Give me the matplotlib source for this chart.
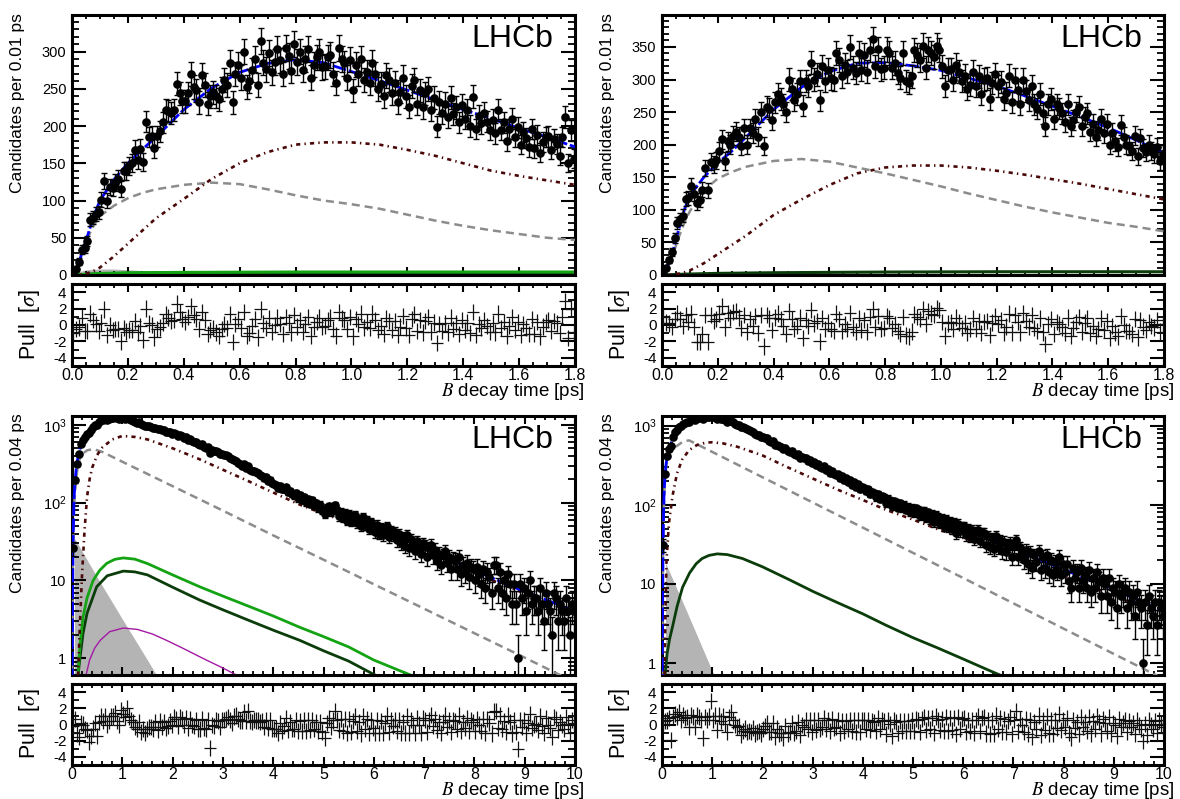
import numpy as np
import matplotlib
matplotlib.use("Agg")
import matplotlib.pyplot as plt
from matplotlib.ticker import MultipleLocator, FixedLocator, FixedFormatter, NullFormatter

plt.rcParams['font.family'] = ['Liberation Sans', 'DejaVu Sans']
plt.rcParams['mathtext.fontset'] = 'stix'
plt.rcParams['axes.unicode_minus'] = False
plt.rcParams['lines.scale_dashes'] = False

# ---------------- binning ----------------
top_bin = 0.01   # ps
bot_bin = 0.04   # ps

# ---------------- top-left data ----------------
tl_counts = [
    1, 8, 18, 34, 36, 46, 74, 77, 82, 84,
    101, 126, 100, 118, 117, 124, 129, 116, 140, 140,
    146, 150, 168, 155, 169, 152, 206, 185, 186, 170,
    186, 193, 205, 222, 220, 218, 222, 257, 244, 233,
    233, 244, 270, 252, 248, 232, 268, 255, 230, 240,
    245, 240, 236, 250, 262, 255, 285, 232, 270, 282,
    265, 300, 252, 260, 275, 290, 255, 314, 285, 276,
    298, 272, 286, 303, 288, 270, 305, 294, 274, 310,
    286, 300, 275, 290, 304, 265, 282, 292, 300, 279,
    280, 292, 295, 270, 258, 305, 290, 284, 265, 289,
    248, 282, 270, 290, 262, 272, 258, 285, 270, 250,
    256, 240, 268, 262, 244, 258, 232, 246, 265, 240,
    226, 254, 262, 230, 248, 225, 244, 250, 222, 238,
    199, 232, 218, 230, 212, 238, 216, 225, 205, 228,
    210, 222, 200, 239, 196, 213, 204, 218, 206, 195,
    208, 190, 222, 195, 205, 180, 196, 210, 185, 198,
    175, 192, 184, 172, 196, 170, 188, 164, 178, 185,
    186, 168, 182, 176, 160, 185, 212, 150, 194, 156]
tl_pulls = [
    -1.0, -0.5, -0.3, 0.9, -0.7, -0.7, 1.4, 0.6, 0.1, -0.7,
    0.3, 1.9, -1.2, 0.0, -0.6, -0.5, -0.5, -2.0, -0.4, -0.8,
    -0.6, -0.6, 0.5, -0.9, -0.1, -1.8, 2.0, 0.2, 0.0, -1.5,
    -0.5, -0.3, 0.3, 1.3, 0.9, 0.5, 0.6, 2.6, 1.6, 0.7,
    0.4, 1.0, 2.3, 1.2, 0.7, -0.5, 1.6, 0.6, -1.1, -0.6,
    -0.4, -0.9, -1.3, -0.5, 0.1, -0.4, 1.3, -2.1, 0.1, 0.7,
    -0.4, 1.6, -1.3, -1.0, -0.1, 0.7, -1.5, 1.9, 0.2, -0.4,
    0.8, -0.8, 0.0, 0.9, 0.1, -1.1, 1.0, 0.3, -0.9, 1.2,
    -0.2, 0.6, -0.8, 0.1, 1.0, -1.3, -0.2, 0.4, 0.9, -0.2,
    -0.1, 0.6, 0.9, -0.5, -1.3, 1.6, 0.8, 0.6, -0.5, 1.0,
    -1.4, 0.7, 0.1, 1.4, -0.3, 0.4, -0.4, 1.4, 0.6, -0.6,
    -0.1, -1.1, 0.8, 0.5, -0.6, 0.5, -1.2, -0.2, 1.1, -0.4,
    -1.2, 0.7, 1.3, -0.7, 0.6, -0.9, 0.5, 1.0, -0.8, 0.3,
    -2.2, 0.1, -0.7, 0.2, -0.9, 0.9, -0.5, 0.2, -1.1, 0.6,
    -0.6, 0.3, -1.0, 1.6, -1.2, 0.1, -0.4, 0.6, -0.1, -0.8,
    0.2, -0.9, 1.4, -0.4, 0.4, -1.3, -0.1, 1.0, -0.6, 0.4,
    -1.2, 0.1, -0.4, -1.1, 0.7, -1.1, 0.4, -1.4, -0.2, 0.4,
    0.6, -0.7, 0.5, 0.2, -1.0, 1.0, 2.9, -1.6, 2.0, -0.8]

# ---------------- top-right data ----------------
tr_counts = [
    4, 11, 23, 35, 57, 80, 86, 91, 116, 118,
    137, 124, 110, 115, 131, 164, 130, 174, 170, 176,
    190, 208, 175, 205, 200, 214, 220, 212, 198, 225,
    200, 225, 218, 240, 212, 250, 198, 258, 255, 238,
    265, 278, 270, 262, 250, 300, 285, 268, 278, 298,
    260, 298, 290, 326, 300, 308, 268, 320, 298, 315,
    302, 300, 340, 330, 305, 322, 312, 350, 318, 310,
    340, 315, 338, 312, 345, 362, 320, 347, 316, 318,
    346, 340, 318, 325, 310, 303, 340, 298, 295, 305,
    345, 338, 330, 352, 318, 346, 340, 335, 352, 345,
    320, 290, 315, 316, 300, 322, 312, 298, 306, 285,
    292, 312, 290, 305, 278, 300, 302, 270, 295, 308,
    290, 296, 270, 280, 306, 265, 300, 284, 262, 300,
    282, 268, 290, 262, 255, 278, 248, 228, 262, 270,
    240, 262, 256, 248, 235, 262, 228, 238, 250, 258,
    228, 242, 248, 220, 232, 212, 222, 240, 218, 232,
    200, 218, 205, 196, 230, 212, 200, 198, 190, 214,
    182, 210, 195, 188, 200, 190, 186, 196, 175, 186]
tr_pulls = [
    1.0, 0.3, 0.2, -0.2, 0.7, 1.5, 0.7, -0.1, 1.2, 0.4,
    1.4, -0.2, -2.1, -2.1, -1.1, 1.2, -2.1, 1.2, 0.5, 0.7,
    1.4, 2.3, -0.3, 1.5, 0.9, 1.6, 1.7, 0.9, -0.4, 1.2,
    -0.8, 0.7, -0.1, 1.1, -1.0, 1.2, -2.6, 1.2, 0.8, -0.6,
    0.9, 1.4, 0.7, -0.1, -1.1, 1.7, 0.7, -0.5, -0.1, 0.9,
    -1.6, 0.6, -0.1, 1.8, 0.2, 0.5, -2.0, 0.8, -0.5, 0.3,
    -0.5, -0.7, 1.4, 0.7, -0.7, 0.1, -0.5, 1.5, -0.3, -0.8,
    0.8, -0.6, 0.6, -0.8, 1.0, 1.9, -0.3, 1.1, -0.5, -0.4,
    1.1, 0.8, -0.4, 0.1, -0.7, -1.1, 1.0, -1.3, -1.4, -0.8,
    1.3, 1.0, 0.7, 1.9, 0.1, 1.7, 1.4, 1.2, 2.1, 1.8,
    0.4, -1.3, 0.2, 0.4, -0.5, 0.9, 0.3, -0.4, 0.2, -1.0,
    -0.5, 0.8, -0.5, 0.5, -1.0, 0.4, 0.5, -1.2, 0.3, 1.1,
    0.1, 0.6, -0.9, -0.2, 1.4, -0.9, 1.2, 0.4, -0.9, 1.5,
    0.5, -0.2, 1.2, -0.4, -0.7, 0.8, -0.9, -2.3, 0.1, 0.7,
    -1.1, 0.4, 0.1, -0.3, -1.0, 0.9, -1.3, -0.4, 0.4, 1.0,
    -0.8, 0.3, 0.8, -1.0, -0.1, -1.3, -0.5, 0.8, -0.6, 0.5,
    -1.6, -0.1, -0.9, -1.4, 1.1, 0.0, -0.7, -0.7, -1.1, 0.7,
    -1.5, 0.6, -0.2, -0.6, 0.4, -0.1, -0.3, 0.6, -0.8, 0.1]

# ---------------- bottom-left data ----------------
bl_counts = [
    26, 195, 310, 420, 560, 640, 700, 770, 790, 860,
    935, 1000, 990, 1085, 1140, 1150, 1190, 1170, 1205, 1235,
    1240, 1255, 1215, 1190, 1255, 1225, 1200, 1230, 1180, 1150,
    1125, 1090, 1065, 1075, 1020, 1010, 980, 975, 965, 945,
    920, 925, 875, 890, 850, 850, 810, 800, 800, 770,
    780, 760, 720, 735, 715, 680, 690, 645, 660, 625,
    595, 600, 560, 545, 560, 520, 505, 515, 430, 475,
    462, 465, 448, 420, 428, 415, 405, 398, 380, 362,
    352, 342, 325, 312, 300, 310, 282, 296, 265, 255,
    255, 245, 238, 228, 222, 205, 212, 192, 198, 178,
    172, 168, 155, 165, 148, 150, 158, 136, 142, 128,
    124, 134, 114, 125, 108, 118, 102, 112, 97, 107,
    92, 99, 86, 94, 80, 72, 86, 90, 77, 83,
    92, 80, 67, 77, 64, 74, 59, 72, 57, 66,
    70, 55, 62, 50, 65, 52, 60, 46, 56, 48,
    42, 52, 40, 48, 38, 45, 50, 36, 44, 38,
    42, 33, 40, 30, 36, 28, 38, 26, 34, 29,
    24, 32, 27, 22, 30, 28, 20, 26, 29, 21,
    25, 18, 22, 16, 21, 24, 17, 20, 14, 19,
    18, 14, 20, 12, 16, 13, 17, 11, 15, 14,
    10, 15, 12, 9, 14, 8, 13, 11, 7, 16,
    16, 8, 13, 7, 10, 6, 12, 9, 5, 9,
    5, 1, 9, 6, 8, 4, 7, 10, 5, 6,
    6, 4, 8, 5, 3, 7, 5, 4, 2, 7,
    6, 3, 5, 4, 3, 6, 4, 2, 5, 4]
bl_pulls = [
    -0.2, 0.7, -1.1, -1.5, 0.2, 0.0, -0.6, -0.7, -2.1, -1.4,
    -0.5, 0.2, -1.4, 0.3, 1.0, 0.4, 1.0, -0.1, 0.4, 1.0,
    1.0, 1.4, 0.4, -0.1, 1.8, 1.3, 0.9, 2.0, 1.0, 0.6,
    0.3, -0.3, -0.6, 0.3, -0.9, -0.6, -1.0, -0.6, -0.3, -0.3,
    -0.5, 0.3, -0.7, 0.4, -0.3, 0.3, -0.4, -0.2, 0.4, 0.0,
    0.9, 0.7, -0.2, 0.9, 0.7, -0.1, 0.8, -0.4, 0.7, -0.1,
    -0.2, 0.6, -0.5, -0.6, 0.7, -0.4, -0.5, 0.5, -2.9, -0.1,
    -0.2, 0.6, 0.4, -0.3, 0.6, 0.6, 0.7, 0.9, 0.6, 0.2,
    1.0, 1.1, 0.7, 0.5, 0.4, 1.5, 0.4, 1.7, 0.4, 0.3,
    0.6, 0.5, 0.5, 0.3, 0.4, -0.3, 0.6, -0.4, 0.5, -0.5,
    -0.6, -0.5, -1.0, 0.2, -0.8, -0.2, 0.8, -0.7, 0.3, -0.6,
    -0.6, 0.6, -0.8, 0.4, -0.8, 0.5, -0.8, 0.5, -0.7, 0.6,
    -0.6, 0.3, -0.8, 0.3, -0.9, -1.7, 0.2, 0.8, -0.3, 0.5,
    1.7, 0.6, -0.7, 0.7, -0.8, 0.7, -1.0, 0.7, -0.9, 0.4,
    1.0, -0.8, 0.3, -1.1, 1.0, -0.5, 0.7, -1.0, 0.5, -0.4,
    -1.0, 0.6, -1.0, 0.4, -1.0, 0.2, 1.1, -0.9, 0.5, -0.2,
    0.6, -0.8, 0.6, -1.0, 0.3, -1.0, 1.0, -1.0, 0.6, -0.1,
    -1.0, 0.8, 0.0, -1.0, 0.8, 0.6, -0.9, 0.5, 1.2, -0.2,
    0.7, -0.7, 0.3, -1.0, 0.3, 1.1, -0.3, 0.5, -0.9, 0.5,
    0.4, -0.5, 1.1, -0.8, 0.3, -0.4, 0.8, -0.8, 0.5, 0.3,
    -0.8, 0.7, 0.0, -0.8, 0.7, -1.0, 0.7, 0.2, -1.1, 1.6,
    1.7, -0.4, 1.1, -0.6, 0.4, -0.9, 1.1, 0.3, -1.1, 0.5,
    -0.9, -3.0, 0.6, -0.3, 0.5, -1.0, 0.2, 1.3, -0.4, 0.0,
    0.1, -0.7, 1.0, -0.2, -1.0, 0.8, 0.0, -0.4, -1.5, 0.9,
    0.7, -0.7, 0.3, -0.1, -0.6, 0.9, 0.1, -1.0, 0.6, 0.2]

# ---------------- bottom-right data ----------------
br_counts = [
    31, 245, 410, 505, 555, 725, 827, 880, 955, 980,
    1040, 1065, 1110, 1100, 1180, 1200, 1180, 1250, 1260, 1270,
    1200, 1300, 1290, 1300, 1365, 1270, 1280, 1200, 1250, 1210,
    1215, 1165, 1110, 1150, 1150, 1095, 1060, 1030, 1015, 960,
    960, 940, 900, 875, 845, 835, 790, 770, 750, 720,
    710, 700, 690, 640, 620, 630, 570, 575, 545, 530,
    500, 515, 480, 470, 480, 440, 430, 440, 395, 405,
    390, 395, 360, 370, 335, 350, 318, 330, 300, 295,
    305, 275, 285, 255, 270, 245, 240, 245, 215, 228,
    205, 215, 195, 205, 180, 192, 168, 182, 158, 170,
    165, 148, 157, 138, 146, 140, 124, 138, 118, 128,
    125, 105, 120, 113, 96, 112, 108, 92, 104, 90,
    100, 87, 95, 82, 92, 78, 90, 86, 72, 84,
    84, 68, 80, 66, 76, 60, 74, 70, 58, 68,
    54, 66, 52, 62, 50, 60, 44, 58, 46, 54,
    54, 41, 50, 40, 48, 37, 46, 48, 35, 44,
    44, 31, 40, 29, 38, 28, 40, 29, 36, 26,
    34, 25, 31, 33, 22, 30, 36, 22, 29, 24,
    20, 27, 18, 25, 16, 23, 19, 26, 15, 22,
    16, 23, 14, 20, 13, 19, 15, 22, 13, 18,
    14, 18, 11, 9, 16, 12, 14, 9, 16, 11,
    13, 9, 15, 8, 12, 9, 14, 11, 7, 12,
    10, 7, 12, 6, 9, 8, 5, 10, 7, 8,
    9, 5, 8, 6, 7, 4, 8, 6, 5, 1,
    6, 3, 7, 5, 4, 6, 3, 6, 5, 4]
br_pulls = [
    0.1, 0.4, 0.5, 0.8, -1.9, 0.9, 1.3, 1.0, 1.5, 0.6,
    1.2, 0.8, 0.9, -0.3, 1.2, 0.9, -0.3, 1.1, 0.9, 0.6,
    -1.7, 0.9, 0.6, 1.0, 2.9, 0.6, 1.1, -0.7, 1.1, 0.4,
    1.0, 0.1, -0.9, 0.9, 1.5, 0.5, 0.0, -0.3, -0.2, -1.3,
    -0.8, -0.5, -0.9, -0.8, -0.9, -0.4, -1.1, -0.9, -0.8, -1.1,
    -0.6, -0.2, 0.2, -0.9, -0.9, 0.2, -1.5, -0.5, -1.1, -1.0,
    -1.6, -0.2, -1.1, -0.9, 0.2, -1.0, -0.8, 0.3, -1.3, -0.1,
    -0.3, 0.6, -0.6, 0.5, -0.9, 0.5, -0.7, 0.6, -0.6, -0.3,
    0.8, -0.5, 0.6, -0.8, 0.7, -0.4, -0.3, 0.6, -1.0, 0.4,
    -0.8, 0.4, -0.6, 0.6, -0.8, 0.5, -0.9, 0.6, -0.9, 0.5,
    0.5, -0.6, 0.6, -0.7, 0.4, 0.3, -0.8, 0.8, -0.6, 0.5,
    0.4, -1.2, 0.5, 0.1, -1.4, 0.5, 0.3, -1.0, 0.4, -0.8,
    0.4, -0.8, 0.4, -0.8, 0.5, -0.8, 0.7, 0.5, -0.9, 0.7,
    0.9, -0.7, 0.8, -0.6, 0.8, -1.0, 1.0, 0.6, -0.7, 0.7,
    -0.8, 0.9, -0.8, 0.8, -0.7, 0.8, -1.2, 0.9, -0.6, 0.7,
    0.8, -0.9, 0.6, -0.8, 0.6, -1.0, 0.6, 1.0, -0.8, 0.8,
    0.9, -1.1, 0.6, -1.2, 0.6, -1.1, 1.1, -0.6, 0.8, -0.9,
    0.7, -0.9, 0.4, 0.9, -1.2, 0.6, 1.7, -0.8, 0.7, -0.1,
    -0.9, 0.7, -1.2, 0.5, -1.5, 0.3, -0.5, 1.1, -1.3, 0.5,
    -0.7, 1.0, -1.1, 0.5, -1.2, 0.5, -0.4, 1.3, -0.7, 0.6,
    -0.3, 0.8, -1.0, -1.6, 0.6, -0.4, 0.3, -1.2, 0.9, -0.3,
    0.3, -0.8, 0.9, -1.1, 0.4, -0.5, 1.0, 0.3, -1.1, 0.7,
    0.2, -0.8, 0.9, -1.1, 0.2, -0.1, -1.4, 0.7, -0.3, 0.2,
    0.6, -0.9, 0.4, -0.3, 0.2, -1.2, 0.6, -0.1, -0.5, -2.0,
    0.1, -1.3, 0.6, -0.1, -0.6, 0.4, -1.0, 0.5, 0.1, -0.3]

# ---------------- fit components (read at sample times) ----------------
top_curve_t = [0, 0.02, 0.04, 0.06, 0.08, 0.1, 0.15, 0.2, 0.25, 0.3, 0.4, 0.5, 0.6,
               0.7, 0.8, 0.9, 1.0, 1.1, 1.2, 1.3, 1.4, 1.5, 1.6, 1.7, 1.8]
tl_total = [0, 12, 34, 58, 81, 100, 128, 150, 168, 185, 222, 251, 272,
            284, 289, 285, 273, 261, 248, 235, 222, 210, 197, 185, 172]
tl_prompt = [0, 12, 33, 53, 68, 79, 93, 103, 110, 115, 121, 124, 122,
             115, 107, 100, 95, 89, 81, 73, 66, 60, 55, 50, 47]
tl_signal = [0, 0, 1, 3, 6, 10, 25, 42, 59, 76, 102, 129, 150,
             165, 175, 178, 178, 175, 168, 160, 150, 140, 133, 127, 121]
tl_fill_t = [0, 0.02, 0.05, 0.1, 0.15, 0.2, 0.3, 0.4, 0.5, 0.6, 0.7]
tl_fill_v = [0, 4, 7, 8, 8, 7, 5, 3, 1.8, 0.8, 0]
tl_bkg_t = [0, 0.05, 0.1, 0.2, 0.4, 0.8, 1.2, 1.8]
tl_green = [0, 1, 2, 3, 3.5, 4, 4, 4]
tl_dgreen = [0, 0.8, 1.5, 2.2, 2.6, 2.8, 2.8, 2.7]

tr_total = [0, 14, 38, 70, 100, 122, 150, 172, 190, 211, 254, 288, 312,
            325, 326, 321, 314, 302, 290, 275, 259, 243, 226, 207, 187]
tr_prompt = [0, 12, 32, 58, 80, 98, 130, 148, 158, 166, 175, 178, 174,
             165, 156, 146, 136, 125, 115, 105, 96, 88, 80, 74, 67]
tr_signal = [0, 0, 1, 2, 4, 7, 18, 32, 46, 60, 92, 116, 138,
             156, 165, 168, 168, 165, 160, 154, 147, 140, 132, 124, 116]
tr_fill_t = [0, 0.02, 0.05, 0.1, 0.2, 0.3, 0.4, 0.5, 0.6]
tr_fill_v = [0, 2, 4, 4, 3, 2, 1, 0.5, 0]
tr_bkg_t = [0, 0.05, 0.1, 0.2, 0.4, 0.8, 1.2, 1.8]
tr_dgreen = [0, 0.8, 1.5, 2.5, 3.5, 4.5, 5, 5]

bl_total_t = [0, 0.02, 0.04, 0.06, 0.08, 0.1, 0.14, 0.2, 0.3, 0.4, 0.5, 0.6, 0.7, 0.8,
              0.9, 1.0, 1.25, 1.5, 2, 2.5, 3, 3.5, 4, 4.5, 5, 5.5, 6, 6.5, 7, 7.5,
              8, 8.5, 9, 9.5, 10]
bl_total = [0.3, 27, 110, 185, 260, 330, 450, 600, 790, 925, 1020, 1090, 1140, 1180,
            1200, 1195, 1110, 990, 759, 575, 398, 269, 182, 123, 87, 66, 50, 37, 27, 19,
            13.5, 9.8, 7.2, 5.4, 4.0]
bl_signal_t = [0.12, 0.16, 0.2, 0.25, 0.3, 0.35, 0.4, 0.5, 0.6, 0.8, 1.0, 1.25, 1.5,
               2.0, 2.5, 3.0, 3.5, 4.0, 4.5, 5.0, 5.5, 6.0, 6.5, 7.0, 7.5, 8.0, 8.5,
               9.0, 9.5, 10.0]
bl_signal = [0.6, 3, 12, 45, 120, 200, 280, 410, 510, 650, 720, 700, 650,
             500, 370, 265, 190, 135, 96, 72, 56, 43, 33, 24, 17.5, 12.5, 9.2,
             6.8, 5.1, 3.8]
bl_prompt_t = [0, 0.02, 0.04, 0.06, 0.1, 0.15, 0.2, 0.3, 0.42, 0.6, 1.0, 2.0, 3.0,
               4.0, 5.0, 6.0, 7.0, 8.0, 9.0, 10.0]
bl_prompt = [0.3, 25, 80, 140, 250, 360, 420, 470, 490, 450, 336, 163, 79,
             38, 18.5, 8.95, 4.34, 2.1, 1.02, 0.49]
bl_fill_t = [0.05, 0.5, 1.0, 1.5, 1.7]
bl_fill_v = [35, 11, 3.2, 0.95, 0.58]
bl_green_t = [0.1, 0.12, 0.16, 0.22, 0.3, 0.42, 0.55, 0.69, 0.85, 1.02, 1.25, 1.5,
              2.0, 2.54, 3.0, 3.5, 4.0, 4.53, 5.0, 5.5, 6.0, 6.5, 7.0]
bl_green = [0.3, 0.6, 1.5, 3.4, 6, 10, 13.5, 16.6, 18.7, 19.5, 18.8, 16.5,
            11.8, 8.3, 6.3, 4.7, 3.5, 2.5, 1.9, 1.4, 0.95, 0.7, 0.52]
bl_dgreen_t = [0.1, 0.14, 0.22, 0.3, 0.49, 0.7, 1.02, 1.25, 1.5, 2.0, 2.54, 3.0,
               3.5, 4.0, 4.53, 5.0, 5.5, 6.0, 6.5]
bl_dgreen = [0.4, 0.8, 2.1, 3.8, 8.3, 11.5, 13.2, 12.9, 11.8, 8.2, 5.6, 4.2,
             3.1, 2.3, 1.7, 1.25, 0.92, 0.62, 0.45]
bl_magenta_t = [0.25, 0.28, 0.35, 0.45, 0.56, 0.75, 1.02, 1.3, 1.6, 1.88, 2.2, 2.6, 3.0, 3.4]
bl_magenta = [0.4, 0.61, 0.95, 1.35, 1.7, 2.2, 2.45, 2.35, 2.05, 1.7, 1.35, 1.0, 0.75, 0.55]

br_total_t = [0, 0.02, 0.04, 0.06, 0.08, 0.1, 0.14, 0.2, 0.3, 0.4, 0.5, 0.6, 0.75, 0.9,
              1.0, 1.25, 1.5, 2.0, 2.5, 3.0, 3.5, 4.0, 4.5, 5.0, 5.5, 6.0, 6.5, 7.0,
              7.5, 8.0, 8.5, 9.0, 9.5, 10.0]
br_total = [0.3, 30, 130, 235, 320, 395, 490, 650, 850, 985, 1090, 1170, 1240, 1265,
            1255, 1185, 1010, 738, 483, 345, 236, 160, 120, 87, 64, 48.5, 37.5, 28,
            20.5, 15.2, 11.4, 8.5, 6.2, 4.6]
br_signal_t = [0.05, 0.07, 0.09, 0.14, 0.21, 0.3, 0.4, 0.54, 0.7, 0.88, 1.0, 1.22, 1.5,
               2.0, 2.54, 3.0, 3.5, 4.0, 4.47, 5.0, 5.5, 6.0, 6.5, 7.0, 7.5, 8.0, 8.5,
               9.0, 9.5, 10.0]
br_signal = [0.71, 5, 20, 60, 130, 250, 370, 490, 570, 610, 615, 595, 540,
             420, 290, 215, 155, 115, 86, 65, 49, 38, 29, 22, 16.8, 12.6, 9.5,
             7.1, 5.3, 4.0]
br_prompt_t = [0, 0.02, 0.04, 0.06, 0.1, 0.15, 0.2, 0.31, 0.42, 0.54, 1.0, 2.0, 3.0,
               4.0, 5.0, 6.0, 7.0, 8.0, 9.0, 10.0]
br_prompt = [0.3, 25, 110, 220, 380, 470, 510, 560, 630, 650, 465, 223, 107,
             51.5, 24.7, 11.9, 5.7, 2.73, 1.31, 0.63]
br_fill_t = [0.07, 0.5, 1.0, 1.2]
br_fill_v = [18.5, 4.4, 0.8, 0.41]
br_dgreen_t = [0.06, 0.1, 0.15, 0.21, 0.3, 0.41, 0.55, 0.68, 0.8, 0.94, 1.1, 1.3, 1.6,
               2.0, 2.54, 3.0, 3.5, 4.0, 4.47, 5.0, 5.5, 6.0, 6.5, 7.0]
br_dgreen = [0.71, 1.3, 2.0, 2.9, 5.2, 9.1, 13.8, 18, 21, 23, 24, 23.5, 21,
             16.5, 11.3, 8.1, 5.8, 4.2, 3.0, 2.1, 1.55, 1.13, 0.82, 0.6]

# ---------------- styles ----------------
C_BLUE = '#0000ff'
C_GRAY = '#8c8c8c'
C_SIG = '#4a0808'
C_FILL = '#b4b4b4'
C_GREEN = '#13a313'
C_DGREEN = '#0b3d0b'
C_MAG = '#a31aa3'
D_BLUE = (10, 2.0)
D_GRAY = (5.8, 3.6)
D_SIG = (3, 3, 1, 3)

W, H = 1180, 799
fig = plt.figure(figsize=(W / 100, H / 100), dpi=100)


def rect(l, t, r, b):
    return [l / W, 1 - b / H, (r - l) / W, (b - t) / H]


def frame(ax, xmaj, xmin, ylen=10, xlen=5.5):
    for s in ax.spines.values():
        s.set_linewidth(2.2)
    ax.tick_params(which='both', direction='in', top=True, right=True,
                   labelsize=10.5, pad=4)
    ax.tick_params(axis='y', which='major', length=ylen, width=1.5)
    ax.tick_params(axis='y', which='minor', length=ylen * 0.5, width=1.3)
    ax.tick_params(axis='x', which='major', length=xlen, width=1.5)
    ax.tick_params(axis='x', which='minor', length=xlen * 0.55, width=1.3)
    ax.xaxis.set_major_locator(MultipleLocator(xmaj))
    ax.xaxis.set_minor_locator(MultipleLocator(xmin))


def draw_data(ax, width, n, log=False):
    n = np.asarray(n, float)
    t = (np.arange(len(n)) + 0.5) * width
    keep = n > 0
    t, n = t[keep], n[keep]
    err = np.sqrt(n)
    lo = np.where(n - err <= 0, n * 0.999, err) if log else err
    ax.errorbar(t, n, yerr=[lo, err], fmt='o', color='black', ms=5.2,
                elinewidth=1.0, capsize=2.2, capthick=1.0, zorder=6)


def draw_pull(ax, width, p, half):
    p = np.asarray(p, float)
    t = (np.arange(len(p)) + 0.5) * width
    ax.errorbar(t, p, xerr=half, yerr=1.0, fmt='none', ecolor='#111111',
                elinewidth=0.9, zorder=3)
    ax.set_ylim(-5, 5)


def main_top(pos, counts, total, prompt, signal, fill_t, fill_v, bkg_t, bkgs, ymax, ylab_x):
    ax = fig.add_axes(rect(*pos))
    ax.fill_between(fill_t, 0, fill_v, color=C_FILL, lw=0, zorder=1)
    for vals, col in bkgs:
        ax.plot(bkg_t, vals, color=col, lw=2.2, zorder=2)
    ax.plot(top_curve_t, prompt, color=C_GRAY, lw=1.8, dashes=D_GRAY, zorder=3)
    ax.plot(top_curve_t, signal, color=C_SIG, lw=1.9, dashes=D_SIG, zorder=3)
    ax.plot(top_curve_t, total, color=C_BLUE, lw=2.0, dashes=D_BLUE, zorder=4)
    draw_data(ax, top_bin, counts)
    ax.set_xlim(0, 1.8)
    ax.set_ylim(0, ymax)
    frame(ax, 0.2, 0.05)
    ax.yaxis.set_major_locator(MultipleLocator(50))
    ax.yaxis.set_minor_locator(MultipleLocator(10))
    ax.xaxis.set_major_formatter(NullFormatter())
    ax.text(0.957, 0.965, 'LHCb', transform=ax.transAxes, ha='right', va='top',
            fontsize=23)
    fig.text(ylab_x / W, 1 - 13 / H, 'Candidates per 0.01 ps', rotation=90,
             ha='center', va='top', fontsize=12.5)
    return ax


def main_bot(pos, counts, curves, fill_t, fill_v, ylim, ylab_x):
    ax = fig.add_axes(rect(*pos))
    ax.set_yscale('log')
    ax.fill_between(fill_t, 1e-3, fill_v, color=C_FILL, lw=0, zorder=1)
    for (tt, vv, kw) in curves:
        ax.plot(tt, vv, **kw)
    draw_data(ax, bot_bin, counts, log=True)
    ax.set_xlim(0, 10)
    ax.set_ylim(*ylim)
    frame(ax, 1, 0.2)
    ax.yaxis.set_major_locator(FixedLocator([1, 10, 100, 1000]))
    ax.yaxis.set_major_formatter(FixedFormatter(['1', '10', r'$\mathregular{10^{2}}$',
                                                 r'$\mathregular{10^{3}}$']))
    minors = [m * d for d in (0.1, 1, 10, 100, 1000) for m in range(2, 10)]
    ax.yaxis.set_minor_locator(FixedLocator(minors))
    ax.yaxis.set_minor_formatter(NullFormatter())
    ax.xaxis.set_major_formatter(NullFormatter())
    ax.text(0.957, 0.965, 'LHCb', transform=ax.transAxes, ha='right', va='top',
            fontsize=23)
    fig.text(ylab_x / W, 1 - 413 / H, 'Candidates per 0.04 ps', rotation=90,
             ha='center', va='top', fontsize=12.5)
    return ax


def pull_panel(pos, width, pulls, half, xmax, xmaj, xmin, fmt, lab_x, lab_y, xl_right, xl_base):
    ax = fig.add_axes(rect(*pos))
    draw_pull(ax, width, pulls, half)
    ax.set_xlim(0, xmax)
    frame(ax, xmaj, xmin, ylen=10, xlen=5.5)
    ax.yaxis.set_major_locator(FixedLocator([-4, -2, 0, 2, 4]))
    ax.yaxis.set_major_formatter(FixedFormatter(['-4', '-2', '0', '2', '4']))
    ax.yaxis.set_minor_locator(MultipleLocator(1))
    ticks = np.arange(0, xmax + 1e-9, xmaj)
    ax.xaxis.set_major_locator(FixedLocator(ticks))
    ax.xaxis.set_major_formatter(FixedFormatter([fmt.format(v) for v in ticks]))
    ax.tick_params(axis='x', labelsize=11.5, pad=1.5)
    ax.tick_params(axis='y', labelsize=11)
    fig.text(lab_x / W, 1 - lab_y / H, r'Pull  [$\sigma$]', rotation=90,
             ha='center', va='center', fontsize=15.5)
    fig.text(xl_right / W, 1 - xl_base / H, r'$B$ decay time [ps]', ha='right',
             va='baseline', fontsize=13.5)
    return ax


# ---- top left ----
main_top((72, 15, 575, 275), tl_counts, tl_total, tl_prompt, tl_signal,
         tl_fill_t, tl_fill_v, tl_bkg_t,
         [(tl_dgreen, C_DGREEN), (tl_green, C_GREEN)], 349, 18)
pull_panel((72, 284, 575, 366), top_bin, tl_pulls, 0.022, 1.8, 0.2, 0.05, '{:.1f}',
           30, 325, 585, 396)

# ---- top right ----
main_top((662, 15, 1164, 275), tr_counts, tr_total, tr_prompt, tr_signal,
         tr_fill_t, tr_fill_v, tr_bkg_t, [(tr_dgreen, C_DGREEN)], 399, 607)
pull_panel((662, 284, 1164, 366), top_bin, tr_pulls, 0.022, 1.8, 0.2, 0.05, '{:.1f}',
           620, 325, 1175, 396)

# ---- bottom left ----
bl_curves = [
    (bl_magenta_t, bl_magenta, dict(color=C_MAG, lw=1.0, zorder=2)),
    (bl_dgreen_t, bl_dgreen, dict(color=C_DGREEN, lw=2.0, zorder=2)),
    (bl_green_t, bl_green, dict(color=C_GREEN, lw=2.0, zorder=2)),
    (bl_prompt_t, bl_prompt, dict(color=C_GRAY, lw=1.8, dashes=D_GRAY, zorder=3)),
    (bl_signal_t, bl_signal, dict(color=C_SIG, lw=1.9, dashes=D_SIG, zorder=3)),
    (bl_total_t, bl_total, dict(color=C_BLUE, lw=2.0, dashes=D_BLUE, zorder=4)),
]
main_bot((72, 416, 575, 675), bl_counts, bl_curves, bl_fill_t, bl_fill_v,
         (0.61, 1300), 18)
pull_panel((72, 684, 575, 765), bot_bin, bl_pulls, 0.12, 10, 1, 0.2, '{:.0f}',
           30, 724, 585, 795)

# ---- bottom right ----
br_curves = [
    (br_dgreen_t, br_dgreen, dict(color=C_DGREEN, lw=2.0, zorder=2)),
    (br_prompt_t, br_prompt, dict(color=C_GRAY, lw=1.8, dashes=D_GRAY, zorder=3)),
    (br_signal_t, br_signal, dict(color=C_SIG, lw=1.9, dashes=D_SIG, zorder=3)),
    (br_total_t, br_total, dict(color=C_BLUE, lw=2.0, dashes=D_BLUE, zorder=4)),
]
main_bot((662, 416, 1164, 675), br_counts, br_curves, br_fill_t, br_fill_v,
         (0.71, 1320), 607)
pull_panel((662, 684, 1164, 765), bot_bin, br_pulls, 0.12, 10, 1, 0.2, '{:.0f}',
           620, 724, 1175, 795)

fig.savefig('out.png', dpi=100)
